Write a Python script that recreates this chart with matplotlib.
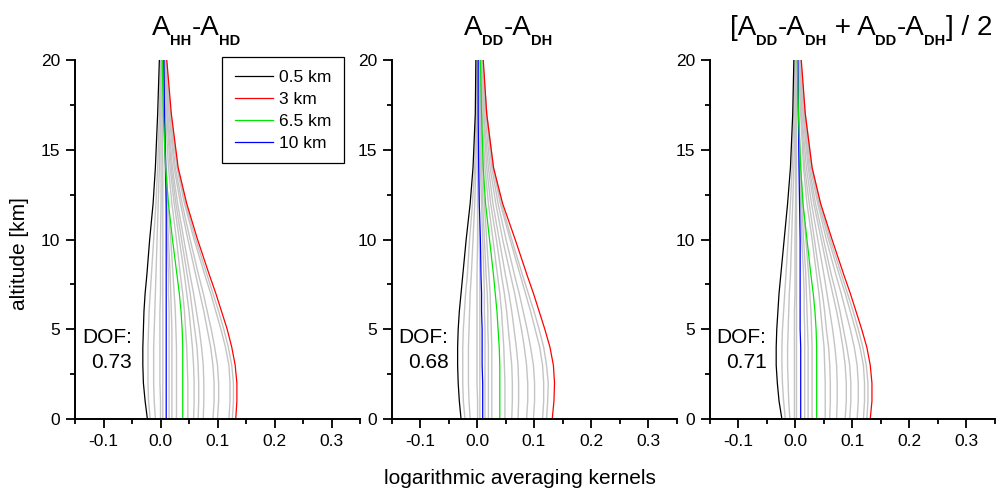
import matplotlib
matplotlib.use("Agg")
import matplotlib.pyplot as plt
from matplotlib.lines import Line2D
from matplotlib.ticker import MultipleLocator

plt.rcParams.update({
    "font.family": "Liberation Sans",
    "axes.unicode_minus": False,
    "axes.linewidth": 1.4,
})

ALT = [0, 1, 2, 3, 4, 5, 6, 7, 8, 10, 12, 14, 17, 20]

LEGEND_LABELS = ["0.5 km", "3 km", "6.5 km", "10 km"]
DOF = ["0.73", "0.68", "0.71"]

# highlighted kernels, panel 1 (A_HH - A_HD)
P1_BLACK = [-0.023, -0.027, -0.030, -0.031, -0.031, -0.030, -0.029, -0.027, -0.024, -0.019, -0.013, -0.009, -0.005, -0.002]
P1_RED = [0.132, 0.134, 0.134, 0.131, 0.125, 0.117, 0.107, 0.097, 0.086, 0.065, 0.046, 0.031, 0.019, 0.011]
P1_GREEN = [0.039, 0.039, 0.039, 0.039, 0.039, 0.038, 0.036, 0.033, 0.029, 0.021, 0.014, 0.009, 0.005, 0.003]
P1_BLUE = [0.010, 0.010, 0.010, 0.010, 0.010, 0.010, 0.010, 0.010, 0.010, 0.010, 0.010, 0.009, 0.007, 0.006]

# panel 2 (A_DD - A_DH)
P2_BLACK = [-0.028, -0.031, -0.033, -0.034, -0.034, -0.033, -0.031, -0.028, -0.025, -0.019, -0.012, -0.007, -0.003, -0.002]
P2_RED = [0.132, 0.135, 0.136, 0.134, 0.128, 0.119, 0.109, 0.099, 0.088, 0.067, 0.045, 0.029, 0.017, 0.011]
P2_GREEN = [0.040, 0.040, 0.040, 0.040, 0.039, 0.037, 0.035, 0.032, 0.029, 0.022, 0.015, 0.011, 0.008, 0.006]
P2_BLUE = [0.010, 0.010, 0.010, 0.009, 0.009, 0.009, 0.008, 0.008, 0.007, 0.006, 0.004, 0.003, 0.002, 0.002]

# panel 3 (mean)
P3_BLACK = [-0.023, -0.028, -0.031, -0.033, -0.033, -0.032, -0.030, -0.028, -0.025, -0.019, -0.013, -0.008, -0.004, -0.002]
P3_RED = [0.132, 0.135, 0.135, 0.132, 0.126, 0.117, 0.107, 0.097, 0.086, 0.065, 0.045, 0.030, 0.018, 0.011]
P3_GREEN = [0.038, 0.038, 0.038, 0.038, 0.038, 0.037, 0.035, 0.032, 0.028, 0.021, 0.014, 0.010, 0.006, 0.004]
P3_BLUE = [0.010, 0.010, 0.010, 0.010, 0.010, 0.009, 0.009, 0.009, 0.009, 0.009, 0.008, 0.007, 0.006, 0.005]

# remaining (grey) kernels
P1_GREY = [
    [-0.018, -0.021, -0.022, -0.022, -0.022, -0.021, -0.020, -0.018, -0.016, -0.012, -0.008, -0.005, -0.002, 0.000],
    [-0.009, -0.011, -0.012, -0.012, -0.012, -0.011, -0.010, -0.009, -0.008, -0.006, -0.004, -0.002, 0.000, 0.001],
    [0.000, 0.000, -0.001, -0.001, -0.001, -0.001, -0.001, 0.000, 0.000, 0.000, 0.001, 0.001, 0.001, 0.002],
    [0.004, 0.004, 0.004, 0.004, 0.004, 0.004, 0.004, 0.004, 0.004, 0.004, 0.004, 0.004, 0.003, 0.003],
    [0.015, 0.015, 0.015, 0.015, 0.015, 0.015, 0.015, 0.014, 0.014, 0.012, 0.010, 0.008, 0.006, 0.004],
    [0.020, 0.020, 0.020, 0.020, 0.020, 0.020, 0.019, 0.018, 0.017, 0.014, 0.011, 0.009, 0.006, 0.005],
    [0.028, 0.028, 0.028, 0.028, 0.028, 0.027, 0.026, 0.024, 0.022, 0.018, 0.013, 0.010, 0.007, 0.005],
    [0.048, 0.048, 0.048, 0.047, 0.046, 0.044, 0.042, 0.039, 0.035, 0.028, 0.020, 0.014, 0.009, 0.006],
    [0.058, 0.059, 0.059, 0.058, 0.056, 0.053, 0.050, 0.046, 0.042, 0.033, 0.024, 0.017, 0.011, 0.007],
    [0.066, 0.067, 0.067, 0.066, 0.064, 0.060, 0.056, 0.052, 0.047, 0.037, 0.027, 0.019, 0.012, 0.008],
    [0.075, 0.076, 0.076, 0.075, 0.072, 0.068, 0.063, 0.058, 0.052, 0.041, 0.030, 0.021, 0.013, 0.008],
    [0.092, 0.094, 0.094, 0.092, 0.088, 0.082, 0.076, 0.069, 0.062, 0.048, 0.035, 0.024, 0.015, 0.009],
    [0.100, 0.102, 0.102, 0.100, 0.095, 0.089, 0.082, 0.075, 0.067, 0.052, 0.038, 0.026, 0.016, 0.009],
    [0.120, 0.122, 0.122, 0.120, 0.114, 0.106, 0.097, 0.088, 0.078, 0.059, 0.042, 0.029, 0.017, 0.010],
    [0.126, 0.128, 0.128, 0.125, 0.119, 0.111, 0.102, 0.092, 0.082, 0.062, 0.044, 0.030, 0.018, 0.010],
]
P2_GREY = [
    [-0.021, -0.024, -0.025, -0.025, -0.025, -0.024, -0.022, -0.020, -0.017, -0.013, -0.008, -0.004, -0.002, 0.000],
    [-0.012, -0.014, -0.015, -0.015, -0.015, -0.014, -0.013, -0.012, -0.010, -0.007, -0.004, -0.002, 0.000, 0.001],
    [0.001, 0.001, 0.000, 0.000, 0.000, 0.000, 0.000, 0.000, 0.000, 0.001, 0.001, 0.001, 0.002, 0.002],
    [0.005, 0.005, 0.005, 0.005, 0.005, 0.005, 0.005, 0.005, 0.005, 0.004, 0.004, 0.003, 0.003, 0.003],
    [0.014, 0.014, 0.014, 0.014, 0.014, 0.014, 0.013, 0.013, 0.012, 0.010, 0.008, 0.006, 0.005, 0.004],
    [0.020, 0.020, 0.020, 0.020, 0.020, 0.019, 0.019, 0.018, 0.016, 0.013, 0.010, 0.008, 0.006, 0.005],
    [0.026, 0.026, 0.026, 0.026, 0.026, 0.025, 0.024, 0.023, 0.021, 0.017, 0.013, 0.010, 0.007, 0.005],
    [0.049, 0.049, 0.049, 0.048, 0.047, 0.045, 0.043, 0.040, 0.036, 0.028, 0.020, 0.014, 0.009, 0.006],
    [0.061, 0.062, 0.062, 0.061, 0.058, 0.055, 0.052, 0.048, 0.043, 0.034, 0.024, 0.017, 0.011, 0.007],
    [0.072, 0.073, 0.073, 0.072, 0.069, 0.065, 0.061, 0.056, 0.050, 0.039, 0.028, 0.020, 0.012, 0.008],
    [0.087, 0.089, 0.089, 0.087, 0.083, 0.078, 0.072, 0.066, 0.059, 0.045, 0.033, 0.023, 0.014, 0.009],
    [0.099, 0.101, 0.101, 0.099, 0.094, 0.088, 0.081, 0.074, 0.066, 0.051, 0.037, 0.026, 0.016, 0.009],
    [0.115, 0.117, 0.117, 0.115, 0.110, 0.102, 0.094, 0.085, 0.076, 0.058, 0.041, 0.028, 0.017, 0.010],
    [0.122, 0.124, 0.125, 0.122, 0.117, 0.109, 0.100, 0.090, 0.080, 0.061, 0.043, 0.029, 0.017, 0.010],
]
P3_GREY = [
    [-0.017, -0.020, -0.022, -0.023, -0.023, -0.022, -0.020, -0.018, -0.016, -0.012, -0.008, -0.005, -0.002, 0.000],
    [-0.009, -0.011, -0.012, -0.013, -0.013, -0.012, -0.011, -0.010, -0.008, -0.006, -0.004, -0.002, 0.000, 0.001],
    [-0.001, -0.001, -0.001, -0.001, -0.001, -0.001, -0.001, 0.000, 0.000, 0.000, 0.001, 0.001, 0.001, 0.002],
    [0.002, 0.002, 0.002, 0.002, 0.002, 0.002, 0.002, 0.002, 0.002, 0.002, 0.002, 0.002, 0.002, 0.002],
    [0.017, 0.017, 0.017, 0.017, 0.017, 0.017, 0.016, 0.016, 0.015, 0.012, 0.010, 0.008, 0.006, 0.004],
    [0.023, 0.023, 0.023, 0.023, 0.023, 0.022, 0.021, 0.020, 0.019, 0.015, 0.012, 0.009, 0.006, 0.005],
    [0.030, 0.030, 0.030, 0.030, 0.030, 0.029, 0.028, 0.026, 0.024, 0.019, 0.014, 0.010, 0.007, 0.005],
    [0.053, 0.053, 0.053, 0.052, 0.051, 0.048, 0.045, 0.042, 0.038, 0.030, 0.021, 0.015, 0.010, 0.006],
    [0.061, 0.062, 0.062, 0.061, 0.059, 0.055, 0.052, 0.048, 0.043, 0.034, 0.025, 0.017, 0.011, 0.007],
    [0.073, 0.074, 0.074, 0.073, 0.070, 0.066, 0.061, 0.056, 0.051, 0.040, 0.029, 0.020, 0.012, 0.008],
    [0.088, 0.090, 0.090, 0.088, 0.084, 0.079, 0.073, 0.066, 0.059, 0.046, 0.033, 0.023, 0.014, 0.009],
    [0.096, 0.098, 0.098, 0.096, 0.091, 0.085, 0.079, 0.072, 0.064, 0.050, 0.036, 0.025, 0.015, 0.009],
    [0.109, 0.111, 0.111, 0.109, 0.104, 0.097, 0.089, 0.081, 0.072, 0.055, 0.040, 0.027, 0.016, 0.010],
    [0.120, 0.122, 0.122, 0.120, 0.114, 0.106, 0.097, 0.088, 0.078, 0.059, 0.042, 0.029, 0.017, 0.010],
    [0.126, 0.128, 0.128, 0.125, 0.119, 0.111, 0.102, 0.092, 0.082, 0.062, 0.044, 0.030, 0.018, 0.010],
]

PANELS = [
    (P1_GREY, [P1_BLACK, P1_RED, P1_GREEN, P1_BLUE]),
    (P2_GREY, [P2_BLACK, P2_RED, P2_GREEN, P2_BLUE]),
    (P3_GREY, [P3_BLACK, P3_RED, P3_GREEN, P3_BLUE]),
]
COLORS = ["black", "#ff0000", "#00e600", "#0000ff"]

# title pieces: (text, subscript?)
TITLES = [
    [("A", False), ("HH", True), ("-A", False), ("HD", True)],
    [("A", False), ("DD", True), ("-A", False), ("DH", True)],
    [("[A", False), ("DD", True), ("-A", False), ("DH", True), (" + A", False),
     ("DD", True), ("-A", False), ("DH", True), ("] / 2", False)],
]
TITLE_CENTERS = [196, 508, 861]

W, H = 997, 491
fig = plt.figure(figsize=(W / 100, H / 100), dpi=100)
renderer = fig.canvas.get_renderer()

lefts = [75, 391.5, 709.5]
for i, (left, (greys, main)) in enumerate(zip(lefts, PANELS)):
    ax = fig.add_axes([left / W, 1 - 419 / H, 285 / W, 359 / H])
    for g in greys:
        ax.plot(g, ALT, color="#c4c4c4", lw=1.0, zorder=1)
    for vals, c in zip(main[::-1], COLORS[::-1]):
        ax.plot(vals, ALT, color=c, lw=0.9, zorder=2)
    ax.set_xlim(-0.15, 0.35)
    ax.set_ylim(0, 20)
    ax.xaxis.set_major_locator(MultipleLocator(0.1))
    ax.xaxis.set_minor_locator(MultipleLocator(0.05))
    ax.yaxis.set_major_locator(MultipleLocator(5))
    ax.yaxis.set_minor_locator(MultipleLocator(2.5))
    ax.xaxis.set_major_formatter(lambda v, p: f"{v:.1f}")
    ax.tick_params(which="major", length=6.5, width=1.3, labelsize=12.5, pad=4)
    ax.tick_params(which="minor", length=3.5, width=1.3)
    ax.spines["top"].set_visible(False)
    ax.spines["right"].set_visible(False)
    ax.spines["left"].set_zorder(3)
    ax.spines["bottom"].set_zorder(3)
    ax.text(0.20, 0.228, "DOF:", transform=ax.transAxes, ha="right", va="center", fontsize=15)
    ax.text(0.20, 0.156, DOF[i], transform=ax.transAxes, ha="right", va="center", fontsize=15)

    if i == 0:
        handles = [Line2D([], [], color=c, lw=0.9) for c in COLORS]
        leg = fig.legend(handles, LEGEND_LABELS, loc="upper left",
                         bbox_to_anchor=(222 / W, 1 - 57 / H), bbox_transform=fig.transFigure,
                         fontsize=12.5, frameon=True, fancybox=False, framealpha=1,
                         edgecolor="black", borderpad=0.72, labelspacing=0.4,
                         handlelength=2.2, handletextpad=0.35, borderaxespad=0)
        leg.get_frame().set_linewidth(0.9)

    # title built from pieces so the bold subscripts sit low and small
    pieces = TITLES[i]
    texts = []
    for s, sub in pieces:
        if sub:
            t = fig.text(0, 0, s, fontsize=10.5, fontweight="bold", va="baseline", ha="left")
        else:
            t = fig.text(0, 0, s, fontsize=20, va="baseline", ha="left")
        texts.append((t, sub))
    widths = [t.get_window_extent(renderer).width for t, _ in texts]
    x = TITLE_CENTERS[i] - sum(widths) / 2
    for (t, sub), w in zip(texts, widths):
        y = 35 + (10 if sub else 0)
        t.set_position((x / W, 1 - y / H))
        x += w

fig.text(520 / W, 1 - 478 / H, "logarithmic averaging kernels", ha="center", va="center", fontsize=15)
fig.text(20 / W, 1 - 254 / H, "altitude [km]", ha="center", va="center", rotation=90, fontsize=15)

fig.savefig("out.png", dpi=100, facecolor="white")
